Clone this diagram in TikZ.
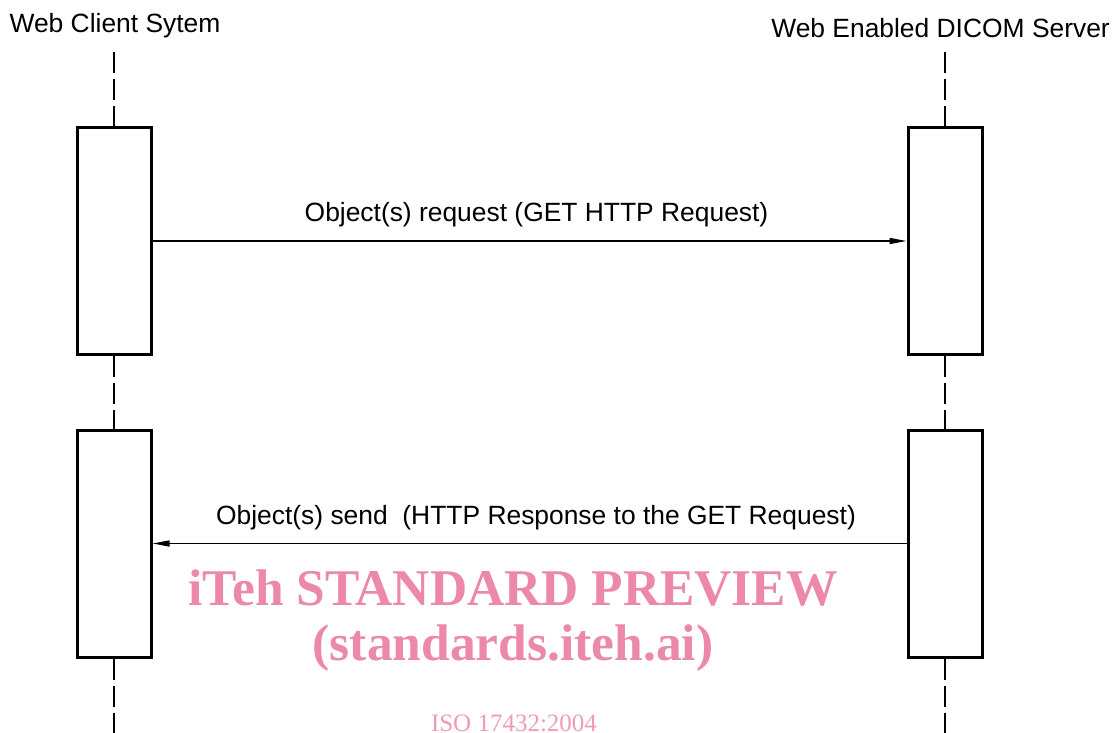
\documentclass[tikz,border=0pt]{standalone}
\usepackage{fontspec}
\setmainfont{Liberation Sans}
\newfontfamily\wmfont{Liberation Serif}
\usetikzlibrary{arrows.meta}
\definecolor{wmpink}{RGB}{236,137,170}
\definecolor{isopink}{RGB}{240,155,182}
\tikzset{
  actbox/.style={draw=black, line width=3pt, fill=white, minimum width=74pt, inner sep=0pt},
  lifeline/.style={line width=2pt, dash pattern=on 21pt off 6pt},
  msg/.style={line width=1.5pt, -{Triangle[length=17pt,width=6pt]}},
  lbl/.style={font=\fontsize{26.4}{31}\selectfont, inner sep=0pt},
  wm/.style={text=wmpink, font=\wmfont\bfseries\fontsize{51.5}{60}\selectfont, inner sep=0pt},
}
\begin{document}
\begin{tikzpicture}[x=1pt,y=-1pt]
\useasboundingbox (0,0) rectangle (1114,733);
% actor labels
\node[lbl] (lc) at (115,26) {Web Client Sytem};
\node[lbl, anchor=east] (rc) at (1110,28) {Web Enabled DICOM Server};
% boxes
\node[actbox, minimum height=226pt] (l1) at (114,241) {};
\node[actbox, minimum height=227pt] (l2) at (114,543.5) {};
\node[actbox, minimum height=226pt] (r1) at (945,241) {};
\node[actbox, minimum height=227pt] (r2) at (945,543.5) {};
% lifeline coordinates
\coordinate (lt) at (114,52);
\coordinate (rt) at (945,52);
\coordinate (lb) at (114,733);
\coordinate (rb) at (945,733);
\draw[lifeline] (lt) -- (l1.north);
\draw[lifeline] (l1.south) -- (l2.north);
\draw[lifeline] (l2.south) -- (lb);
\draw[lifeline] (rt) -- (r1.north);
\draw[lifeline] (r1.south) -- (r2.north);
\draw[lifeline] (r2.south) -- (rb);
% messages
\draw[msg] (l1.east) -- (r1.west) node[lbl, midway, above=13pt, xshift=7pt] {Object(s) request (GET HTTP Request)};
\draw[msg] (r2.west) -- (l2.east) node[lbl, midway, above=13pt, xshift=6.5pt] {Object(s) send\ \ (HTTP Response to the GET Request)};
% watermark
\node[wm] (w1) at (513,588) {iTeh STANDARD PREVIEW};
\node[wm] (w2) at (513,648) {(standards.iteh.ai)};
\node[text=isopink, font=\wmfont\fontsize{25}{30}\selectfont, inner sep=0pt, anchor=base] (w3) at (514,731) {ISO 17432:2004};
\end{tikzpicture}
\end{document}
